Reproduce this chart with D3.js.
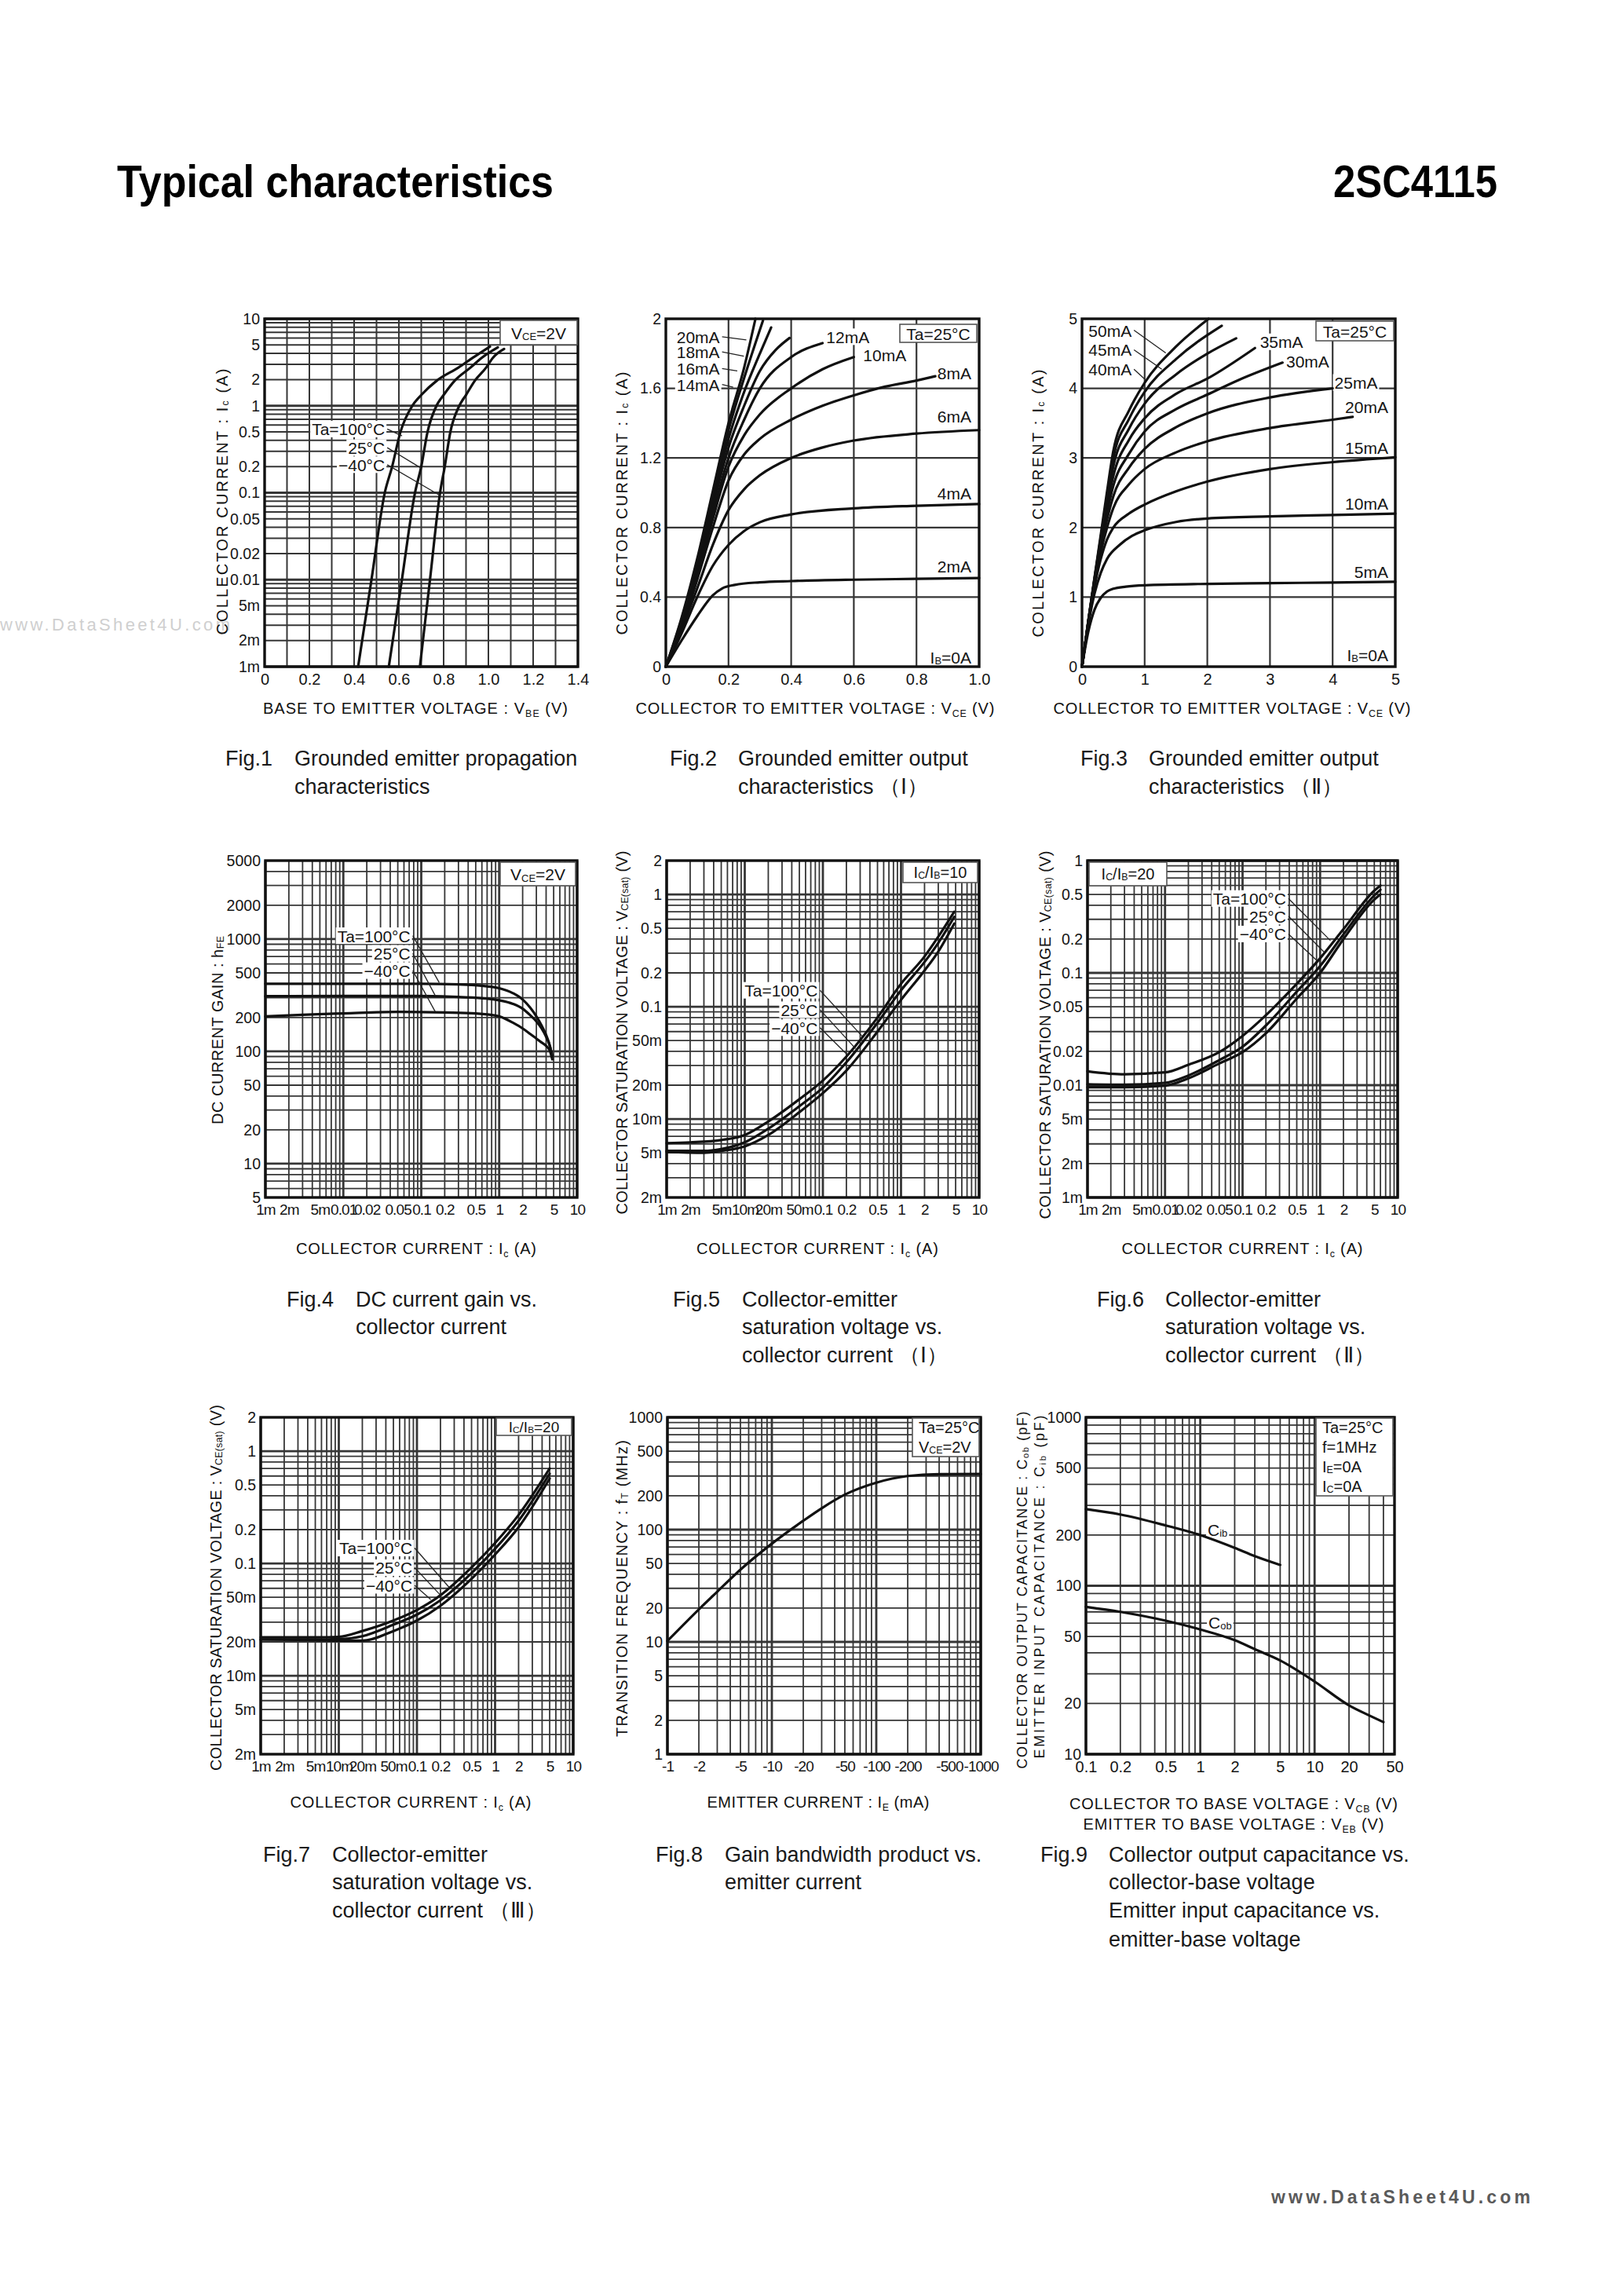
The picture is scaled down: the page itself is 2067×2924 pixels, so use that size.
<!DOCTYPE html>
<html><head><meta charset="utf-8">
<script src="https://cdn.jsdelivr.net/npm/d3@7"></script>
<style>
body{margin:0;background:#fff}
text{font-family:"Liberation Sans",Arial,Helvetica,sans-serif}
</style></head><body>
<script>
// ================= DATA =================
// Fig.1  Ic (A) vs VBE (V)
const fig1XTicks=[0,0.2,0.4,0.6,0.8,1.0,1.2,1.4];
const fig1XLabels=["0","0.2","0.4","0.6","0.8","1.0","1.2","1.4"];
const fig1YTicks=[0.001,0.002,0.005,0.01,0.02,0.05,0.1,0.2,0.5,1,2,5,10];
const fig1YLabels=["1m","2m","5m","0.01","0.02","0.05","0.1","0.2","0.5","1","2","5","10"];
const fig1Ta100=[[0.418,0.001],[0.4775,0.01],[0.537,0.1],[0.57,0.2],[0.607,0.5],[0.66,1],[0.70,1.33],[0.77,1.95],[0.866,2.75],[0.93,3.56],[1.007,4.8]];
const fig1Ta25=[[0.555,0.001],[0.6135,0.01],[0.672,0.1],[0.70,0.2],[0.728,0.5],[0.768,1],[0.80,1.33],[0.85,1.95],[0.92,2.75],[0.97,3.56],[1.042,4.7]];
const fig1Tam40=[[0.694,0.001],[0.739,0.01],[0.784,0.1],[0.805,0.2],[0.83,0.5],[0.87,1],[0.90,1.33],[0.94,1.95],[0.99,2.75],[1.02,3.56],[1.07,4.5]];

// Fig.2  Ic (A) vs VCE (V), IB = 2..20 mA
const fig2XTicks=[0,0.2,0.4,0.6,0.8,1.0];
const fig2XLabels=["0","0.2","0.4","0.6","0.8","1.0"];
const fig2YTicks=[0,0.4,0.8,1.2,1.6,2];
const fig2YLabels=["0","0.4","0.8","1.2","1.6","2"];
const fig2Ib2=[[0,0],[0.05,0.15],[0.1,0.29],[0.15,0.41],[0.18,0.45],[0.22,0.47],[0.3,0.485],[0.4,0.492],[0.6,0.5],[0.8,0.505],[1.0,0.51]];
const fig2Ib4=[[0,0],[0.05,0.19],[0.1,0.4],[0.15,0.58],[0.2,0.7],[0.25,0.78],[0.3,0.83],[0.4,0.875],[0.6,0.91],[0.8,0.925],[1.0,0.935]];
const fig2Ib6=[[0,0],[0.05,0.21],[0.1,0.45],[0.15,0.7],[0.2,0.9],[0.25,1.02],[0.3,1.1],[0.4,1.2],[0.5,1.26],[0.6,1.3],[0.8,1.34],[1.0,1.36]];
const fig2Ib8=[[0,0],[0.05,0.22],[0.1,0.5],[0.15,0.8],[0.2,1.07],[0.25,1.22],[0.3,1.31],[0.4,1.42],[0.5,1.5],[0.6,1.56],[0.7,1.61],[0.8,1.645],[0.86,1.67]];
const fig2Ib10=[[0,0],[0.05,0.23],[0.1,0.52],[0.15,0.85],[0.2,1.15],[0.25,1.33],[0.3,1.45],[0.4,1.6],[0.5,1.71],[0.6,1.78]];
const fig2Ib12=[[0,0],[0.05,0.24],[0.1,0.54],[0.15,0.88],[0.2,1.2],[0.25,1.42],[0.3,1.6],[0.4,1.78],[0.5,1.86]];
const fig2Ib14=[[0,0],[0.05,0.25],[0.1,0.56],[0.15,0.92],[0.2,1.26],[0.25,1.5],[0.3,1.7],[0.35,1.82],[0.395,1.89]];
const fig2Ib16=[[0,0],[0.05,0.26],[0.1,0.58],[0.15,0.95],[0.2,1.31],[0.25,1.58],[0.3,1.8],[0.336,1.95]];
const fig2Ib18=[[0,0],[0.05,0.27],[0.1,0.6],[0.15,0.98],[0.2,1.36],[0.25,1.66],[0.31,1.99]];
const fig2Ib20=[[0,0],[0.05,0.28],[0.1,0.62],[0.15,1.01],[0.2,1.4],[0.25,1.72],[0.286,2.0]];

// Fig.3  Ic (A) vs VCE (V), IB = 5..50 mA
const fig3XTicks=[0,1,2,3,4,5];
const fig3YTicks=[0,1,2,3,4,5];
const fig3Ib5=[[0,0],[0.1,0.5],[0.2,0.82],[0.3,0.99],[0.4,1.08],[0.5,1.12],[0.7,1.15],[1,1.17],[2,1.19],[3,1.2],[4,1.21],[5,1.22]];
const fig3Ib10=[[0,0],[0.1,0.6],[0.2,1.05],[0.3,1.35],[0.4,1.55],[0.6,1.75],[0.8,1.88],[1,1.96],[1.5,2.08],[2,2.13],[3,2.16],[4,2.18],[5,2.2]];
const fig3Ib15=[[0,0],[0.1,0.62],[0.2,1.15],[0.3,1.55],[0.4,1.83],[0.5,2.0],[0.75,2.2],[1,2.33],[1.5,2.52],[2,2.66],[3,2.84],[4,2.94],[5,3.01]];
const fig3Ib20=[[0,0],[0.1,0.63],[0.2,1.2],[0.3,1.65],[0.4,2.0],[0.5,2.28],[0.75,2.62],[1,2.84],[1.5,3.08],[2,3.24],[3,3.43],[4,3.55],[4.32,3.59]];
const fig3Ib25=[[0,0],[0.1,0.63],[0.2,1.22],[0.3,1.72],[0.4,2.12],[0.5,2.45],[0.75,2.86],[1,3.13],[1.5,3.44],[2,3.64],[3,3.87],[4,4.0]];
const fig3Ib30=[[0,0],[0.1,0.64],[0.2,1.24],[0.3,1.76],[0.4,2.22],[0.5,2.6],[0.75,3.06],[1,3.38],[1.5,3.7],[2,3.91],[2.5,4.12],[3.2,4.37]];
const fig3Ib35=[[0,0],[0.1,0.64],[0.2,1.25],[0.3,1.8],[0.4,2.3],[0.5,2.74],[0.75,3.26],[1,3.57],[1.5,3.92],[2,4.14],[2.76,4.58]];
const fig3Ib40=[[0,0],[0.1,0.65],[0.2,1.26],[0.3,1.83],[0.4,2.38],[0.5,2.88],[0.75,3.42],[1,3.78],[1.5,4.2],[2,4.5],[2.46,4.72]];
const fig3Ib45=[[0,0],[0.1,0.65],[0.2,1.27],[0.3,1.86],[0.4,2.45],[0.5,3.0],[0.75,3.56],[1,3.95],[1.5,4.42],[2.23,4.9]];
const fig3Ib50=[[0,0],[0.1,0.66],[0.2,1.28],[0.3,1.9],[0.4,2.52],[0.5,3.1],[0.75,3.68],[1,4.08],[1.5,4.6],[2.02,5.0]];

// Common log current axis (1m..10 A)
const icTicks=[0.001,0.002,0.005,0.01,0.02,0.05,0.1,0.2,0.5,1,2,5,10];
const icLabelsA=["1m","2m","5m","0.01","0.02","0.05","0.1","0.2","0.5","1","2","5","10"];
const icLabelsB=["1m","2m","5m","10m","20m","50m","0.1","0.2","0.5","1","2","5","10"];

// Fig.4  hFE vs Ic
const fig4YTicks=[5,10,20,50,100,200,500,1000,2000,5000];
const fig4YLabels=["5","10","20","50","100","200","500","1000","2000","5000"];
const fig4Ta100=[[0.001,400],[0.01,400],[0.1,400],[0.3,395],[0.7,380],[1,365],[1.5,330],[2,290],[2.5,245],[3,205],[3.5,170],[4,140],[4.5,110],[4.8,90]];
const fig4Ta25=[[0.001,310],[0.01,312],[0.1,312],[0.3,305],[0.7,295],[1,285],[1.5,265],[2,240],[2.5,210],[3,185],[3.5,160],[4,135],[4.5,110],[4.8,90]];
const fig4Tam40=[[0.001,205],[0.003,212],[0.01,218],[0.05,225],[0.2,222],[0.5,218],[1,205],[1.5,180],[2,160],[2.5,143],[3,130],[3.5,120],[4,112],[4.5,100],[4.8,85]];

// Fig.5  VCE(sat) vs Ic, Ic/IB=10
const vsatTicks=[0.002,0.005,0.01,0.02,0.05,0.1,0.2,0.5,1,2];
const vsatLabels=["2m","5m","10m","20m","50m","0.1","0.2","0.5","1","2"];
const fig5Ta100=[[0.001,0.0061],[0.002,0.0062],[0.005,0.0065],[0.01,0.0072],[0.02,0.0095],[0.05,0.015],[0.1,0.022],[0.2,0.036],[0.5,0.08],[1,0.16],[2,0.28],[3,0.42],[4.8,0.7]];
const fig5Ta25=[[0.001,0.0052],[0.003,0.0052],[0.005,0.0054],[0.01,0.0062],[0.02,0.0082],[0.05,0.013],[0.1,0.019],[0.2,0.032],[0.5,0.072],[1,0.14],[2,0.25],[3,0.37],[4.8,0.63]];
const fig5Tam40=[[0.001,0.0051],[0.003,0.005],[0.005,0.0052],[0.01,0.0057],[0.02,0.0072],[0.05,0.0115],[0.1,0.017],[0.2,0.027],[0.5,0.06],[1,0.115],[2,0.21],[3,0.31],[4.8,0.55]];

// Fig.6  VCE(sat) vs Ic, Ic/IB=20
const fig6YTicks=[0.001,0.002,0.005,0.01,0.02,0.05,0.1,0.2,0.5,1];
const fig6YLabels=["1m","2m","5m","0.01","0.02","0.05","0.1","0.2","0.5","1"];
const fig6Ta100=[[0.001,0.0133],[0.003,0.0125],[0.01,0.013],[0.02,0.0152],[0.05,0.0197],[0.1,0.0275],[0.2,0.042],[0.5,0.08],[1,0.135],[2,0.245],[5,0.54],[6,0.6]];
const fig6Ta25=[[0.001,0.0102],[0.003,0.0101],[0.01,0.0105],[0.02,0.0122],[0.05,0.0167],[0.1,0.022],[0.2,0.034],[0.5,0.068],[1,0.115],[2,0.22],[5,0.49],[6,0.55]];
const fig6Tam40=[[0.001,0.0096],[0.003,0.0096],[0.01,0.0099],[0.02,0.0115],[0.05,0.0156],[0.1,0.0197],[0.2,0.029],[0.5,0.059],[1,0.1],[2,0.2],[5,0.45],[6,0.5]];

// Fig.7  VCE(sat) vs Ic, Ic/IB=20
const fig7Ta100=[[0.001,0.022],[0.005,0.022],[0.01,0.0222],[0.02,0.025],[0.05,0.031],[0.1,0.0385],[0.2,0.052],[0.5,0.092],[1,0.152],[2,0.27],[5,0.7]];
const fig7Ta25=[[0.001,0.021],[0.005,0.021],[0.01,0.0212],[0.02,0.0225],[0.05,0.0285],[0.1,0.035],[0.2,0.047],[0.5,0.082],[1,0.135],[2,0.24],[5,0.63]];
const fig7Tam40=[[0.001,0.021],[0.005,0.0208],[0.01,0.0205],[0.02,0.0205],[0.05,0.025],[0.1,0.031],[0.2,0.042],[0.5,0.073],[1,0.12],[2,0.21],[5,0.57]];

// Fig.8  fT (MHz) vs |IE| (mA)
const fig8XTicks=[1,2,5,10,20,50,100,200,500,1000];
const fig8XLabels=["-1","-2","-5","-10","-20","-50","-100","-200","-500","-1000"];
const fig8YTicks=[1,2,5,10,20,50,100,200,500,1000];
const fig8YLabels=["1","2","5","10","20","50","100","200","500","1000"];
const fig8Ft=[[1,10.2],[2,19.5],[3,28],[5,44],[10,75],[20,120],[30,155],[50,205],[100,262],[200,300],[400,312],[1000,313]];

// Fig.9  Cob / Cib (pF) vs V
const fig9XTicks=[0.1,0.2,0.5,1,2,5,10,20,50];
const fig9XLabels=["0.1","0.2","0.5","1","2","5","10","20","50"];
const fig9YTicks=[10,20,50,100,200,500,1000];
const fig9YLabels=["10","20","50","100","200","500","1000"];
const fig9Cib=[[0.1,285],[0.2,265],[0.5,228],[1,200],[2,168],[3,150],[5,133]];
const fig9Cob=[[0.1,75],[0.2,70],[0.5,62],[1,55],[2,47.5],[3,42],[5,36],[10,27],[20,19.5],[30,17],[40,15.5]];

// ================= DRAWING =================
const W=2067,H=2924;
const svg=d3.select("body").append("svg").attr("width",W).attr("height",H).style("display","block");
svg.append("rect").attr("width",W).attr("height",H).attr("fill","#fff");
const INK="#151515", GRID="#363636";

function logGrid(lo,hi){const o=[];for(let e=Math.floor(Math.log10(lo))-1;e<=Math.ceil(Math.log10(hi));e++){for(let k=1;k<10;k++){const v=+(k*Math.pow(10,e)).toPrecision(6);if(v>=lo*0.999&&v<=hi*1.001)o.push(v);}}return o;}
function isDecade(v){const l=Math.log10(v);return Math.abs(l-Math.round(l))<1e-6;}
function parseRich(s){const out=[];const re=/_\{([^}]*)\}/g;let last=0,m;while((m=re.exec(s))){if(m.index>last)out.push({t:s.slice(last,m.index)});out.push({t:m[1],sub:true});last=re.lastIndex;}if(last<s.length)out.push({t:s.slice(last)});return out;}
function rich(sel,s,attrs){const t=sel.append("text");Object.entries(attrs).forEach(([k,v])=>t.attr(k,v));const fs=+attrs["font-size"]||18;let sh=false;
  parseRich(s).forEach(p=>{const ts=t.append("tspan").text(p.t);if(p.sub){ts.attr("font-size",(fs*0.62).toFixed(1));if(!sh){ts.attr("dy",(fs*0.22).toFixed(1));sh=true;}}else if(sh){ts.attr("dy",(-fs*0.22).toFixed(1));sh=false;}});return t;}

function panel(L,o){
  const x=(o.xLog?d3.scaleLog():d3.scaleLinear()).domain(o.xDomain).range([L.x0,L.x1]);
  const y=(o.yLog?d3.scaleLog():d3.scaleLinear()).domain(o.yDomain).range([L.y1,L.y0]);
  const g=svg.append("g");
  const gridG=g.append("g"),bgG=g.append("g"),curveG=g.append("g"),frameG=g.append("g"),textG=g.append("g");
  o.xGrid.forEach(v=>gridG.append("line").attr("x1",x(v)).attr("x2",x(v)).attr("y1",L.y0).attr("y2",L.y1)
    .attr("stroke",GRID).attr("stroke-width",o.xLog&&isDecade(v)?2.8:(o.gw||1.8)));
  o.yGrid.forEach(v=>gridG.append("line").attr("y1",y(v)).attr("y2",y(v)).attr("x1",L.x0).attr("x2",L.x1)
    .attr("stroke",GRID).attr("stroke-width",o.yLog&&isDecade(v)?2.8:(o.gw||1.8)));
  const line=d3.line().x(d=>x(d[0])).y(d=>y(d[1])).curve(d3.curveMonotoneX);
  o.series.forEach(s=>curveG.append("path").attr("d",line(s)).attr("fill","none").attr("stroke","#111").attr("stroke-width",3.2).attr("stroke-linejoin","round").attr("stroke-linecap","round"));
  frameG.append("rect").attr("x",L.x0).attr("y",L.y0).attr("width",L.x1-L.x0).attr("height",L.y1-L.y0).attr("fill","none").attr("stroke","#111").attr("stroke-width",3.4);
  const xa=d3.axisBottom(x).tickValues(o.xTicks).tickFormat((d,i)=>o.xLabels[i]).tickSize(0).tickPadding(9);
  const xg=textG.append("g").attr("transform",`translate(0,${L.y1})`).call(xa);
  xg.select(".domain").remove();xg.attr("font-size",null).attr("font-family",null);
  xg.selectAll("text").attr("font-size",o.xfs||20).attr("letter-spacing",o.xls||0).attr("fill",INK);
  const ya=d3.axisLeft(y).tickValues(o.yTicks).tickFormat((d,i)=>o.yLabels[i]).tickSize(0).tickPadding(6);
  const yg=textG.append("g").attr("transform",`translate(${L.x0},0)`).call(ya);
  yg.select(".domain").remove();yg.attr("font-size",null).attr("font-family",null);
  yg.selectAll("text").attr("font-size",o.yfs||19.5).attr("letter-spacing",o.yls||0).attr("fill",INK);
  return {x,y,g,bgG,textG,L};
}
function note(P,s,at,opt={}){
  const fs=opt.fs||21;
  const t=rich(P.textG,s,{x:P.x(at[0]),y:P.y(at[1]),"text-anchor":opt.anchor||"end","dominant-baseline":"central","font-size":fs,fill:INK});
  const b=t.node().getBBox();
  if(opt.bg!==false)P.bgG.append("rect").attr("x",b.x-2).attr("y",b.y+1).attr("width",b.width+4).attr("height",b.height-2).attr("fill","#fff");
  if(opt.to){P.textG.append("line").attr("x1",b.x+b.width+3).attr("y1",P.y(at[1])).attr("x2",P.x(opt.to[0])).attr("y2",P.y(opt.to[1])).attr("stroke","#222").attr("stroke-width",1.3);}
}
function box(P,r,lines,opt={}){
  const fs=opt.fs||21;
  P.textG.append("rect").attr("x",r[0]).attr("y",r[1]).attr("width",r[2]-r[0]).attr("height",r[3]-r[1]).attr("fill","#fff").attr("stroke","#555").attr("stroke-width",1.6);
  if(lines.length===1){rich(P.textG,lines[0],{x:(r[0]+r[2])/2,y:(r[1]+r[3])/2,"text-anchor":"middle","dominant-baseline":"central","font-size":fs,fill:INK});}
  else{const lh=(r[3]-r[1])/lines.length;lines.forEach((l,i)=>rich(P.textG,l,{x:r[0]+8,y:r[1]+lh*(i+0.5),"dominant-baseline":"central","font-size":fs,fill:INK}));}
}
function xTitle(cx,y,s,len,fs=20){rich(svg,s,{x:cx,y:y,"text-anchor":"middle","font-size":fs,fill:"#111",textLength:len,lengthAdjust:"spacing"});}
function yTitle(cx,cy,s,len,fs=20){const g=svg.append("g").attr("transform",`translate(${cx},${cy}) rotate(-90)`);rich(g,s,{x:0,y:0,"text-anchor":"middle","dominant-baseline":"central","font-size":fs,fill:"#111",textLength:len,lengthAdjust:"spacing"});}
function caption(fx,tx,ys,label,lines){
  svg.append("text").attr("x",fx).attr("y",ys[0]).attr("font-size",27).attr("fill","#1a1a1a").text(label);
  lines.forEach((l,i)=>svg.append("text").attr("x",tx).attr("y",ys[i]).attr("font-size",27).attr("fill","#1a1a1a").text(l));
}

// Header
svg.append("text").attr("x",149).attr("y",251).attr("font-size",58).attr("font-weight","bold").attr("fill","#000").attr("textLength",556).attr("lengthAdjust","spacingAndGlyphs").text("Typical characteristics");
svg.append("text").attr("x",1698).attr("y",251).attr("font-size",58).attr("font-weight","bold").attr("fill","#000").attr("textLength",209).attr("lengthAdjust","spacingAndGlyphs").text("2SC4115");
// watermarks
svg.append("text").attr("x",0).attr("y",803).attr("font-size",22).attr("fill","#cfcfcf").attr("textLength",293).attr("lengthAdjust","spacing").text("www.DataSheet4U.com");
svg.append("text").attr("x",1619).attr("y",2806).attr("font-size",23).attr("font-weight","bold").attr("fill","#5a5a5a").attr("textLength",330).attr("lengthAdjust","spacing").text("www.DataSheet4U.com");

const ROW1=[975,1011], ROW2=[1664,1699,1735], ROW3=[2371,2406,2442,2479];

// ---------- Fig.1 ----------
{const L={x0:337,x1:736,y0:406,y1:849};
 const P=panel(L,{xDomain:[0,1.4],yLog:true,yDomain:[0.001,10],xGrid:d3.range(1,14).map(i=>i/10),yGrid:logGrid(0.001,10),gw:2,
   xTicks:fig1XTicks,xLabels:fig1XLabels,yTicks:fig1YTicks,yLabels:fig1YLabels,series:[fig1Ta100,fig1Ta25,fig1Tam40]});
 note(P,"Ta=100°C",[0.5375,0.54],{to:[0.614,0.45]});
 note(P,"25°C",[0.5375,0.33],{to:[0.702,0.19]});
 note(P,"−40°C",[0.5375,0.21],{to:[0.784,0.093]});
 box(P,[637,408,735,439],["V_{CE}=2V"]);
 yTitle(283,639,"COLLECTOR CURRENT : I_{c}  (A)",339);
 xTitle(529,909,"BASE TO EMITTER VOLTAGE : V_{BE}  (V)",388);
 caption(287,375,ROW1,"Fig.1",["Grounded emitter propagation","characteristics"]);
}
// ---------- Fig.2 ----------
{const L={x0:848,x1:1247,y0:406,y1:849};
 const P=panel(L,{xDomain:[0,1],yDomain:[0,2],xGrid:[0.2,0.4,0.6,0.8],yGrid:[0.4,0.8,1.2,1.6],gw:2.2,
   xTicks:fig2XTicks,xLabels:fig2XLabels,yTicks:fig2YTicks,yLabels:fig2YLabels,
   series:[fig2Ib2,fig2Ib4,fig2Ib6,fig2Ib8,fig2Ib10,fig2Ib12,fig2Ib14,fig2Ib16,fig2Ib18,fig2Ib20]});
 note(P,"20mA",[0.172,1.897],{to:[0.257,1.879]});
 note(P,"18mA",[0.172,1.81],{to:[0.249,1.785]});
 note(P,"16mA",[0.172,1.714],{to:[0.228,1.70]});
 note(P,"14mA",[0.172,1.622],{to:[0.215,1.607]});
 note(P,"12mA",[0.512,1.897],{anchor:"start"});
 note(P,"10mA",[0.63,1.793],{anchor:"start"});
 note(P,"8mA",[0.975,1.69]);
 note(P,"6mA",[0.975,1.439]);
 note(P,"4mA",[0.975,1.0]);
 note(P,"2mA",[0.975,0.579]);
 note(P,"I_{B}=0A",[0.975,0.056]);
 box(P,[1146,413,1244,436],["Ta=25°C"]);
 yTitle(792,641,"COLLECTOR CURRENT : I_{c}  (A)",335);
 xTitle(1038,909,"COLLECTOR TO EMITTER VOLTAGE : V_{CE}  (V)",457);
 caption(853,940,ROW1,"Fig.2",["Grounded emitter output","characteristics （Ⅰ）"]);
}
// ---------- Fig.3 ----------
{const L={x0:1378,x1:1777,y0:406,y1:849};
 const P=panel(L,{xDomain:[0,5],yDomain:[0,5],xGrid:[1,2,3,4],yGrid:[1,2,3,4],gw:2.2,
   xTicks:fig3XTicks,xLabels:fig3XTicks.map(String),yTicks:fig3YTicks,yLabels:fig3YTicks.map(String),
   series:[fig3Ib5,fig3Ib10,fig3Ib15,fig3Ib20,fig3Ib25,fig3Ib30,fig3Ib35,fig3Ib40,fig3Ib45,fig3Ib50]});
 note(P,"50mA",[0.104,4.836],{anchor:"start",to:[1.337,4.508]});
 note(P,"45mA",[0.104,4.555],{anchor:"start",to:[1.274,4.274]});
 note(P,"40mA",[0.104,4.274],{anchor:"start",to:[1.0,4.133]});
 note(P,"35mA",[2.84,4.67],{anchor:"start"});
 note(P,"30mA",[3.258,4.39],{anchor:"start"});
 note(P,"25mA",[4.03,4.086],{anchor:"start"});
 note(P,"20mA",[4.887,3.735]);
 note(P,"15mA",[4.887,3.149]);
 note(P,"10mA",[4.887,2.352]);
 note(P,"5mA",[4.887,1.368]);
 note(P,"I_{B}=0A",[4.887,0.173]);
 box(P,[1676,409,1775,434],["Ta=25°C"]);
 yTitle(1322,641,"COLLECTOR CURRENT : I_{c}  (A)",341);
 xTitle(1569,909,"COLLECTOR TO EMITTER VOLTAGE : V_{CE}  (V)",455);
 caption(1376,1463,ROW1,"Fig.3",["Grounded emitter output","characteristics （Ⅱ）"]);
}
// ---------- Fig.4 ----------
{const L={x0:338,x1:735,y0:1096,y1:1525};
 const P=panel(L,{xLog:true,yLog:true,xDomain:[0.001,10],yDomain:[5,5000],xGrid:logGrid(0.001,10),yGrid:logGrid(5,5000),
   xTicks:icTicks,xLabels:icLabelsA,xfs:19,xls:-0.9,yTicks:fig4YTicks,yLabels:fig4YLabels,
   series:[fig4Ta100,fig4Ta25,fig4Tam40]});
 note(P,"Ta=100°C",[0.0726,1072],{to:[0.17,410]});
 note(P,"25°C",[0.0726,745],{to:[0.151,314]});
 note(P,"−40°C",[0.0726,524],{to:[0.151,226]});
 box(P,[637,1098,733,1128],["V_{CE}=2V"]);
 yTitle(277,1312,"DC CURRENT GAIN : h_{FE}",240);
 xTitle(530,1597,"COLLECTOR CURRENT : I_{c}  (A)",306);
 caption(365,453,ROW2,"Fig.4",["DC current gain vs.","collector current"]);
}
// ---------- Fig.5 ----------
{const L={x0:849,x1:1247,y0:1096,y1:1525};
 const P=panel(L,{xLog:true,yLog:true,xDomain:[0.001,10],yDomain:[0.002,2],xGrid:logGrid(0.001,10),yGrid:logGrid(0.002,2),
   xTicks:icTicks,xLabels:icLabelsB,xfs:19,xls:-0.9,yTicks:vsatTicks,yLabels:vsatLabels,
   series:[fig5Ta100,fig5Ta25,fig5Tam40]});
 note(P,"Ta=100°C",[0.0857,0.14],{to:[0.318,0.0546]});
 note(P,"25°C",[0.0857,0.094],{to:[0.262,0.0424]});
 note(P,"−40°C",[0.0857,0.065],{to:[0.208,0.037]});
 box(P,[1150,1098,1245,1124],["I_{C}/I_{B}=10"],{fs:20});
 yTitle(792,1315,"COLLECTOR SATURATION VOLTAGE : V_{CE(sat)}  (V)",463);
 xTitle(1041,1597,"COLLECTOR CURRENT : I_{c}  (A)",308);
 caption(857,945,ROW2,"Fig.5",["Collector-emitter","saturation voltage vs.","collector current （Ⅰ）"]);
}
// ---------- Fig.6 ----------
{const L={x0:1385,x1:1780,y0:1096,y1:1525};
 const P=panel(L,{xLog:true,yLog:true,xDomain:[0.001,10],yDomain:[0.001,1],xGrid:logGrid(0.001,10),yGrid:logGrid(0.001,1),
   xTicks:icTicks,xLabels:icLabelsA,xfs:19,xls:-0.9,yTicks:fig6YTicks,yLabels:fig6YLabels,
   series:[fig6Ta100,fig6Ta25,fig6Tam40]});
 note(P,"Ta=100°C",[0.364,0.46],{to:[1.36,0.194]});
 note(P,"25°C",[0.364,0.32],{to:[1.12,0.154]});
 note(P,"−40°C",[0.364,0.222],{to:[0.887,0.131]});
 box(P,[1387,1098,1486,1128],["I_{C}/I_{B}=20"],{fs:20});
 yTitle(1331,1318,"COLLECTOR SATURATION VOLTAGE : V_{CE(sat)}  (V)",469);
 xTitle(1582,1597,"COLLECTOR CURRENT : I_{c}  (A)",307);
 caption(1397,1484,ROW2,"Fig.6",["Collector-emitter","saturation voltage vs.","collector current （Ⅱ）"]);
}
// ---------- Fig.7 ----------
{const L={x0:332,x1:730,y0:1805,y1:2234};
 const P=panel(L,{xLog:true,yLog:true,xDomain:[0.001,10],yDomain:[0.002,2],xGrid:logGrid(0.001,10),yGrid:logGrid(0.002,2),
   xTicks:icTicks,xLabels:icLabelsB,xfs:19,xls:-0.9,yTicks:vsatTicks,yLabels:vsatLabels,
   series:[fig7Ta100,fig7Ta25,fig7Tam40]});
 note(P,"Ta=100°C",[0.0872,0.137],{to:[0.257,0.0615]});
 note(P,"25°C",[0.0872,0.0917],{to:[0.204,0.0514]});
 note(P,"−40°C",[0.0872,0.0638],{to:[0.15,0.0478]});
 box(P,[632,1806,728,1828],["I_{C}/I_{B}=20"],{fs:19});
 yTitle(275,2022,"COLLECTOR SATURATION VOLTAGE : V_{CE(sat)}  (V)",466);
 xTitle(523,2302,"COLLECTOR CURRENT : I_{c}  (A)",307);
 caption(335,423,ROW3,"Fig.7",["Collector-emitter","saturation voltage vs.","collector current （Ⅲ）"]);
}
// ---------- Fig.8 ----------
{const L={x0:850,x1:1249,y0:1805,y1:2234};
 const P=panel(L,{xLog:true,yLog:true,xDomain:[1,1000],yDomain:[1,1000],xGrid:logGrid(1,1000),yGrid:logGrid(1,1000),
   xTicks:fig8XTicks,xLabels:fig8XLabels,xfs:19,xls:-0.9,yTicks:fig8YTicks,yLabels:fig8YLabels,
   series:[fig8Ft]});
 box(P,[1162,1806,1247,1855],["Ta=25°C","V_{CE}=2V"],{fs:20});
 yTitle(792,2023,"TRANSITION FREQUENCY : f_{T}  (MHz)",378);
 xTitle(1042,2302,"EMITTER CURRENT : I_{E}  (mA)",283);
 caption(835,923,ROW3,"Fig.8",["Gain bandwidth product vs.","emitter current"]);
}
// ---------- Fig.9 ----------
{const L={x0:1383,x1:1776,y0:1805,y1:2234};
 const P=panel(L,{xLog:true,yLog:true,xDomain:[0.1,50],yDomain:[10,1000],xGrid:logGrid(0.1,50),yGrid:logGrid(10,1000),
   xTicks:fig9XTicks,xLabels:fig9XLabels,yTicks:fig9YTicks,yLabels:fig9YLabels,
   series:[fig9Cib,fig9Cob]});
 note(P,"C_{ib}",[1.16,216],{anchor:"start"});
 note(P,"C_{ob}",[1.18,61],{anchor:"start"});
 box(P,[1676,1806,1774,1905],["Ta=25°C","f=1MHz","I_{E}=0A","I_{C}=0A"],{fs:20});
 yTitle(1302,2025,"COLLECTOR OUTPUT CAPACITANCE : C_{ob}  (pF)",455,18);
 yTitle(1324,2021,"EMITTER INPUT CAPACITANCE : C_{ib}  (pF)",437,18);
 xTitle(1571,2304,"COLLECTOR TO BASE VOLTAGE : V_{CB}  (V)",418);
 xTitle(1571,2330,"EMITTER TO BASE VOLTAGE : V_{EB}  (V)",383);
 caption(1325,1412,ROW3,"Fig.9",["Collector output capacitance vs.","collector-base voltage","Emitter input capacitance vs.","emitter-base voltage"]);
}
</script></body></html>
